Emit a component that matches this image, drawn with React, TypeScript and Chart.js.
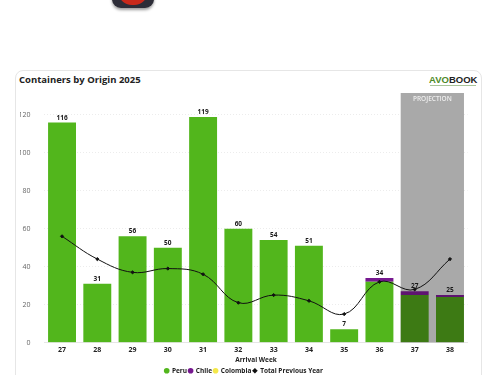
import React, { useEffect, useRef } from "react";
import { Chart, registerables } from "chart.js";

Chart.register(...registerables);

const weeks = ["27", "28", "29", "30", "31", "32", "33", "34", "35", "36", "37", "38"];
const peru = [116, 31, 56, 50, 119, 60, 54, 51, 7, 32, 25, 24];
const chile = [0, 0, 0, 0, 0, 0, 0, 0, 0, 2, 2, 1];
const colombia = [0, 0, 0, 0, 0, 0, 0, 0, 0, 0, 0, 0];
const previousYear = [56, 44, 37, 39, 36, 21, 25, 22, 15, 32, 28, 44];
const projectedWeeks = ["37", "38"];

const FONT = "'Open Sans', sans-serif";
const GREEN = "#52b61c";
const DARK_GREEN = "#3d7a14";
const PURPLE = "#76188f";
const DARK_PURPLE = "#5e1470";

const projectionBand = {
  id: "projectionBand",
  beforeDatasetsDraw(chart: any) {
    const { ctx, chartArea, scales } = chart;
    const first = scales.x.getPixelForValue(weeks.indexOf(projectedWeeks[0]));
    const last = scales.x.getPixelForValue(weeks.indexOf(projectedWeeks[projectedWeeks.length - 1]));
    ctx.save();
    ctx.fillStyle = "#a9a9a9";
    ctx.fillRect(first - 14, chartArea.top, last - first + 28, chartArea.bottom - chartArea.top);
    ctx.fillStyle = "#eeeeee";
    ctx.font = `600 6.5px ${FONT}`;
    ctx.textAlign = "center";
    ctx.textBaseline = "middle";
    ctx.fillText("PROJECTION", (first + last) / 2, chartArea.top + 6);
    ctx.restore();
  },
};

const totalLabels = {
  id: "totalLabels",
  afterDatasetsDraw(chart: any) {
    const { ctx, scales } = chart;
    ctx.save();
    ctx.fillStyle = "#1a1a1a";
    ctx.font = `700 6.5px ${FONT}`;
    ctx.textAlign = "center";
    ctx.textBaseline = "bottom";
    weeks.forEach((_, i) => {
      const total = peru[i] + chile[i] + colombia[i];
      ctx.fillText(String(total), scales.x.getPixelForValue(i), scales.y.getPixelForValue(total) - 1.5);
    });
    ctx.restore();
  },
};

export default function App() {
  const ref = useRef<HTMLCanvasElement>(null);
  useEffect(() => {
    const chart = new Chart(ref.current!, {
      data: {
        labels: weeks,
        datasets: [
          {
            type: "line",
            label: "Total Previous Year",
            data: previousYear,
            borderColor: "#111",
            backgroundColor: "#111",
            borderWidth: 1,
            tension: 0.4,
            pointStyle: "rectRot",
            pointRadius: 1.6,
            order: 0,
          },
          {
            type: "bar",
            label: "Peru",
            data: peru,
            backgroundColor: weeks.map((w) => (projectedWeeks.includes(w) ? DARK_GREEN : GREEN)),
            stack: "s",
            order: 1,
          },
          {
            type: "bar",
            label: "Chile",
            data: chile,
            backgroundColor: weeks.map((w) => (projectedWeeks.includes(w) ? DARK_PURPLE : PURPLE)),
            stack: "s",
            order: 1,
          },
          {
            type: "bar",
            label: "Colombia",
            data: colombia,
            backgroundColor: "#f4e84a",
            stack: "s",
            order: 1,
          },
        ],
      } as any,
      options: {
        animation: false,
        responsive: false,
        layout: { padding: { left: 20, right: 32.4, top: 93, bottom: 0 } },
        datasets: { bar: { barPercentage: 0.88, categoryPercentage: 0.9 } },
        scales: {
          x: {
            stacked: true,
            grid: { display: false, drawTicks: false },
            border: { display: true, color: "#e6e6e6" },
            ticks: { color: "#222", font: { family: FONT, size: 7, weight: 700 }, padding: 3, maxRotation: 0 },
            title: { display: true, text: "Arrival Week", color: "#222", font: { family: FONT, size: 6.5, weight: 700 }, padding: { top: 0, bottom: 2 } },
            afterFit(s: any) { s.height = 23.5; },
          },
          y: {
            stacked: true,
            min: 0,
            max: 131.6,
            grid: { color: "#e4e4e4", lineWidth: 0.7, drawTicks: false },
            border: { display: false, dash: [1, 2] },
            ticks: { stepSize: 20, color: "#666", font: { family: FONT, size: 7 }, padding: 14 },
            afterBuildTicks(s: any) { s.ticks = s.ticks.filter((t: any) => t.value <= 120); },
            afterFit(s: any) { s.width = 24.4; },
          },
        },
        plugins: {
          title: { display: false },
          tooltip: { enabled: false },
          legend: {
            position: "bottom",
            labels: {
              usePointStyle: true,
              boxWidth: 4,
              boxHeight: 4,
              padding: 1.5,
              color: "#1a1a1a",
              font: { family: FONT, size: 6.5, weight: 700 },
              sort: (a: any, b: any) => (a.text === "Total Previous Year" ? 1 : b.text === "Total Previous Year" ? -1 : 0),
              generateLabels(c: any) {
                return c.data.datasets.map((d: any, i: number) => ({
                  text: d.label,
                  datasetIndex: i,
                  fillStyle: d.label === "Peru" ? GREEN : d.label === "Chile" ? PURPLE : d.label === "Colombia" ? "#f4e84a" : "#111",
                  strokeStyle: "transparent",
                  lineWidth: 0,
                  fontColor: "#1a1a1a",
                  pointStyle: d.type === "line" ? "rectRot" : "circle",
                }));
              },
            },
          },
        },
      },
      plugins: [projectionBand, totalLabels],
    } as any);
    return () => chart.destroy();
  }, []);

  return (
    <div style={{ position: "fixed", left: 0, top: 0, width: 500, height: 375, overflow: "hidden", background: "#fff", fontFamily: FONT }}>
      <div style={{ position: "absolute", left: 112, top: -34, width: 42, height: 42, borderRadius: 9, background: "#2d2d38", boxShadow: "0 2px 3px rgba(0,0,0,.4)" }}>
        <div style={{ position: "absolute", left: 6, top: 0, width: 30, height: 39, borderRadius: 14, background: "#c8291b" }} />
      </div>
      <div style={{ position: "absolute", left: 15, top: 70, width: 467, height: 330, border: "1px solid #e6e6e6", borderRadius: 8, boxSizing: "border-box" }} />
      <div style={{ position: "absolute", left: 19, top: 73, fontSize: 9.5, lineHeight: "14px", fontWeight: 700, color: "#222", whiteSpace: "nowrap" }}>Containers by Origin 2025</div>
      <div style={{ position: "absolute", left: 429, top: 74, fontFamily: "'Liberation Sans', sans-serif", fontSize: 9.5, fontWeight: 700, lineHeight: "11px", whiteSpace: "nowrap" }}>
        <span style={{ color: "#4d8a2a" }}>AVO</span><span style={{ color: "#222" }}>BOOK</span>
      </div>
      <div style={{ position: "absolute", left: 430, top: 85, width: 46, height: 1, background: "#a9c49a" }} />
      <canvas ref={ref} width={500} height={384} style={{ position: "absolute", left: 0, top: 0, display: "block" }} />
    </div>
  );
}
